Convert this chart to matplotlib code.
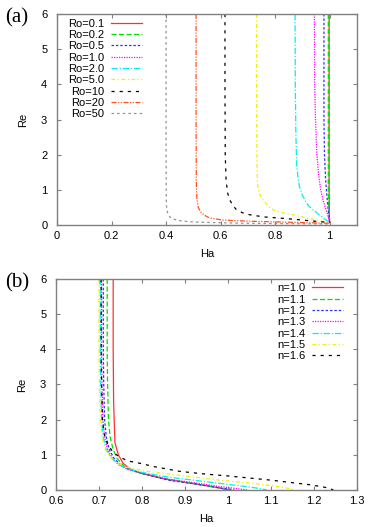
import matplotlib
matplotlib.use('Agg')
import matplotlib.pyplot as plt

plt.rcParams['font.family'] = ['Liberation Sans', 'DejaVu Sans']
plt.rcParams['font.size'] = 8

# ---- panel (a): Re vs Ha for several Ro ----
ro_labels = ['Ro=0.1', 'Ro=0.2', 'Ro=0.5', 'Ro=1.0', 'Ro=2.0',
             'Ro=5.0', 'Ro=10', 'Ro=20', 'Ro=50']

ha_ro01 = [0.998, 0.998, 0.999, 1.0]
re_ro01 = [6, 1, 0.2, 0.07]
ha_ro02 = [0.995, 0.995, 0.997, 1.0]
re_ro02 = [6, 1, 0.3, 0.07]
ha_ro05 = [0.979, 0.979, 0.981, 0.985, 0.990, 0.995, 1.0]
re_ro05 = [6, 3, 2, 1.3, 0.8, 0.4, 0.07]
ha_ro1 = [0.944, 0.945, 0.948, 0.953, 0.960, 0.967, 0.976, 0.984, 0.992, 1.0]
re_ro1 = [6, 4, 3, 2, 1.4, 1.0, 0.7, 0.5, 0.3, 0.07]
ha_ro2 = [0.873, 0.874, 0.876, 0.879, 0.884, 0.889, 0.897, 0.909, 0.922,
          0.94, 0.96, 0.98, 1.0]
re_ro2 = [6, 4, 2.6, 1.7, 1.35, 1.1, 0.9, 0.71, 0.55, 0.43, 0.3, 0.18, 0.07]
ha_ro5 = [0.732, 0.732, 0.733, 0.735, 0.740, 0.748, 0.757, 0.773, 0.793,
          0.82, 0.854, 0.90, 0.94, 0.97, 1.0]
re_ro5 = [6, 4, 2, 1.2, 0.95, 0.8, 0.7, 0.55, 0.43, 0.36, 0.31, 0.23,
          0.16, 0.11, 0.07]
ha_ro10 = [0.616, 0.616, 0.617, 0.62, 0.626, 0.634, 0.645, 0.659, 0.68,
           0.708, 0.76, 0.83, 0.93, 1.0]
re_ro10 = [6, 4, 2, 1.28, 0.9, 0.71, 0.55, 0.43, 0.35, 0.29, 0.23, 0.19,
           0.12, 0.07]
ha_ro20 = [0.51, 0.51, 0.511, 0.513, 0.518, 0.526, 0.54, 0.56, 0.61, 0.7,
           0.8, 0.9, 1.0]
re_ro20 = [6, 3, 1.2, 0.75, 0.5, 0.38, 0.28, 0.2, 0.14, 0.11, 0.09, 0.07, 0.05]
ha_ro50 = [0.40, 0.40, 0.401, 0.403, 0.408, 0.415, 0.43, 0.46, 0.52, 0.6,
           0.7, 0.85, 1.0]
re_ro50 = [6, 2, 0.6, 0.42, 0.3, 0.22, 0.16, 0.11, 0.08, 0.065, 0.05,
           0.04, 0.03]

# ---- panel (b): Re vs Ha for several n ----
n_labels = ['n=1.0', 'n=1.1', 'n=1.2', 'n=1.3', 'n=1.4', 'n=1.5', 'n=1.6']

ha_n10 = [0.733, 0.733, 0.734, 0.737, 0.745, 0.756, 0.772, 0.80, 0.85,
          0.90, 0.95, 0.98, 1.0]
re_n10 = [6, 4, 2.5, 1.35, 1.0, 0.76, 0.6, 0.47, 0.32, 0.22, 0.12, 0.06, 0.0]
ha_n11 = [0.719, 0.719, 0.72, 0.722, 0.726, 0.733, 0.742, 0.755, 0.775,
          0.80, 0.85, 0.90, 0.95, 0.98, 1.0]
re_n11 = [6, 4, 3, 2, 1.5, 1.15, 0.9, 0.72, 0.57, 0.47, 0.33, 0.22, 0.12,
          0.06, 0.0]
ha_n12 = [0.710, 0.710, 0.711, 0.713, 0.717, 0.724, 0.735, 0.75, 0.77,
          0.80, 0.865, 0.92, 0.98, 1.0, 1.015]
re_n12 = [6, 4, 3, 2, 1.5, 1.15, 0.9, 0.72, 0.58, 0.47, 0.27, 0.18, 0.06,
          0.03, 0.0]
ha_n13 = [0.706, 0.706, 0.707, 0.709, 0.713, 0.72, 0.731, 0.746, 0.767,
          0.80, 0.865, 0.92, 0.98, 1.02, 1.045]
re_n13 = [6, 4, 3, 2, 1.5, 1.15, 0.9, 0.72, 0.58, 0.48, 0.30, 0.21, 0.10,
          0.04, 0.0]
ha_n14 = [0.703, 0.703, 0.704, 0.706, 0.710, 0.717, 0.728, 0.743, 0.765,
          0.80, 0.865, 0.92, 0.98, 1.04, 1.07, 1.09]
re_n14 = [6, 4, 3, 2, 1.5, 1.15, 0.92, 0.74, 0.6, 0.5, 0.36, 0.28, 0.19,
          0.10, 0.05, 0.0]
ha_n15 = [0.70, 0.70, 0.701, 0.703, 0.707, 0.714, 0.725, 0.74, 0.765, 0.80,
          0.865, 0.92, 0.98, 1.05, 1.10, 1.135, 1.155]
re_n15 = [6, 4, 3, 2, 1.5, 1.17, 0.95, 0.78, 0.65, 0.55, 0.45, 0.37, 0.28,
          0.2, 0.13, 0.06, 0.0]
ha_n16 = [0.705, 0.705, 0.706, 0.708, 0.712, 0.72, 0.733, 0.75, 0.77,
          0.795, 0.83, 0.888, 0.95, 1.0, 1.1, 1.19, 1.22, 1.235, 1.245]
re_n16 = [6, 4, 3, 2, 1.6, 1.3, 1.07, 0.92, 0.82, 0.76, 0.66, 0.53, 0.45,
          0.40, 0.28, 0.15, 0.09, 0.05, 0.0]

# gnuplot-like colours and dash patterns
colors = ['#ff3030', '#00e000', '#3030ff', '#ff00ff', '#00f0f0',
          '#f0f000', '#000000', '#ff5020', '#909090']
styles = ['-', (0, (4, 2)), (0, (2, 1.5)), (0, (1, 1)),
          (0, (5, 1.5, 1, 1.5)), (0, (3, 2, 1, 2)), (0, (2.5, 4)),
          (0, (4, 1.2, 1, 1.2, 1, 1.2)), (0, (2, 2.5))]

frame_col = '#808080'


def style_axes(ax):
    for s in ax.spines.values():
        s.set_color(frame_col)
        s.set_linewidth(1.0)
    ax.tick_params(direction='in', top=True, right=True, length=3,
                   color=frame_col, width=0.8, labelsize=8)
    ax.tick_params(axis='x', pad=4)
    ax.tick_params(axis='y', pad=7)


fig = plt.figure(figsize=(3.74, 5.27), dpi=100)

# (a)
ax1 = fig.add_axes([0.1524, 0.573, 0.802, 0.4004])
curves_a = [(ha_ro01, re_ro01), (ha_ro02, re_ro02), (ha_ro05, re_ro05),
            (ha_ro1, re_ro1), (ha_ro2, re_ro2), (ha_ro5, re_ro5),
            (ha_ro10, re_ro10), (ha_ro20, re_ro20), (ha_ro50, re_ro50)]
for (x, y), lab, c, ls in zip(curves_a, ro_labels, colors, styles):
    ax1.plot(x, y, color=c, linestyle=ls, linewidth=0.9, label=lab)
ax1.set_xlim(0, 1.1)
ax1.set_ylim(0, 6)
ax1.set_xticks([0, 0.2, 0.4, 0.6, 0.8, 1.0])
ax1.set_xticklabels(['0', '0.2', '0.4', '0.6', '0.8', '1'])
ax1.set_yticks(range(7))
ax1.set_xlabel('Ha', fontsize=8, labelpad=6)
ax1.set_ylabel('Re', fontsize=8, labelpad=9)
style_axes(ax1)
ax1.legend(loc='upper right', bbox_to_anchor=(0.283, 0.978),
           frameon=False, markerfirst=False, fontsize=8,
           handlelength=2.8, handletextpad=0.6, labelspacing=0.12,
           borderpad=0, borderaxespad=0)
fig.text(0.015, 0.966, '(a)', fontsize=15, family='Liberation Serif',
         va='center', ha='left')

# (b)
ax2 = fig.add_axes([0.1497, 0.0702, 0.805, 0.4004])
curves_b = [(ha_n10, re_n10), (ha_n11, re_n11), (ha_n12, re_n12),
            (ha_n13, re_n13), (ha_n14, re_n14), (ha_n15, re_n15),
            (ha_n16, re_n16)]
for (x, y), lab, c, ls in zip(curves_b, n_labels, colors, styles):
    ax2.plot(x, y, color=c, linestyle=ls, linewidth=0.9, label=lab)
ax2.set_xlim(0.6, 1.3)
ax2.set_ylim(0, 6)
ax2.set_xticks([0.6, 0.7, 0.8, 0.9, 1.0, 1.1, 1.2, 1.3])
ax2.set_xticklabels(['0.6', '0.7', '0.8', '0.9', '1', '1.1', '1.2', '1.3'])
ax2.set_yticks(range(7))
ax2.set_xlabel('Ha', fontsize=8, labelpad=6)
ax2.set_ylabel('Re', fontsize=8, labelpad=9)
style_axes(ax2)
ax2.legend(loc='upper right', bbox_to_anchor=(0.954, 0.98),
           frameon=False, markerfirst=False, fontsize=8,
           handlelength=2.8, handletextpad=0.6, labelspacing=0.12,
           borderpad=0, borderaxespad=0)
fig.text(0.015, 0.463, '(b)', fontsize=15, family='Liberation Serif',
         va='center', ha='left')

fig.savefig('out.png', dpi=100)
